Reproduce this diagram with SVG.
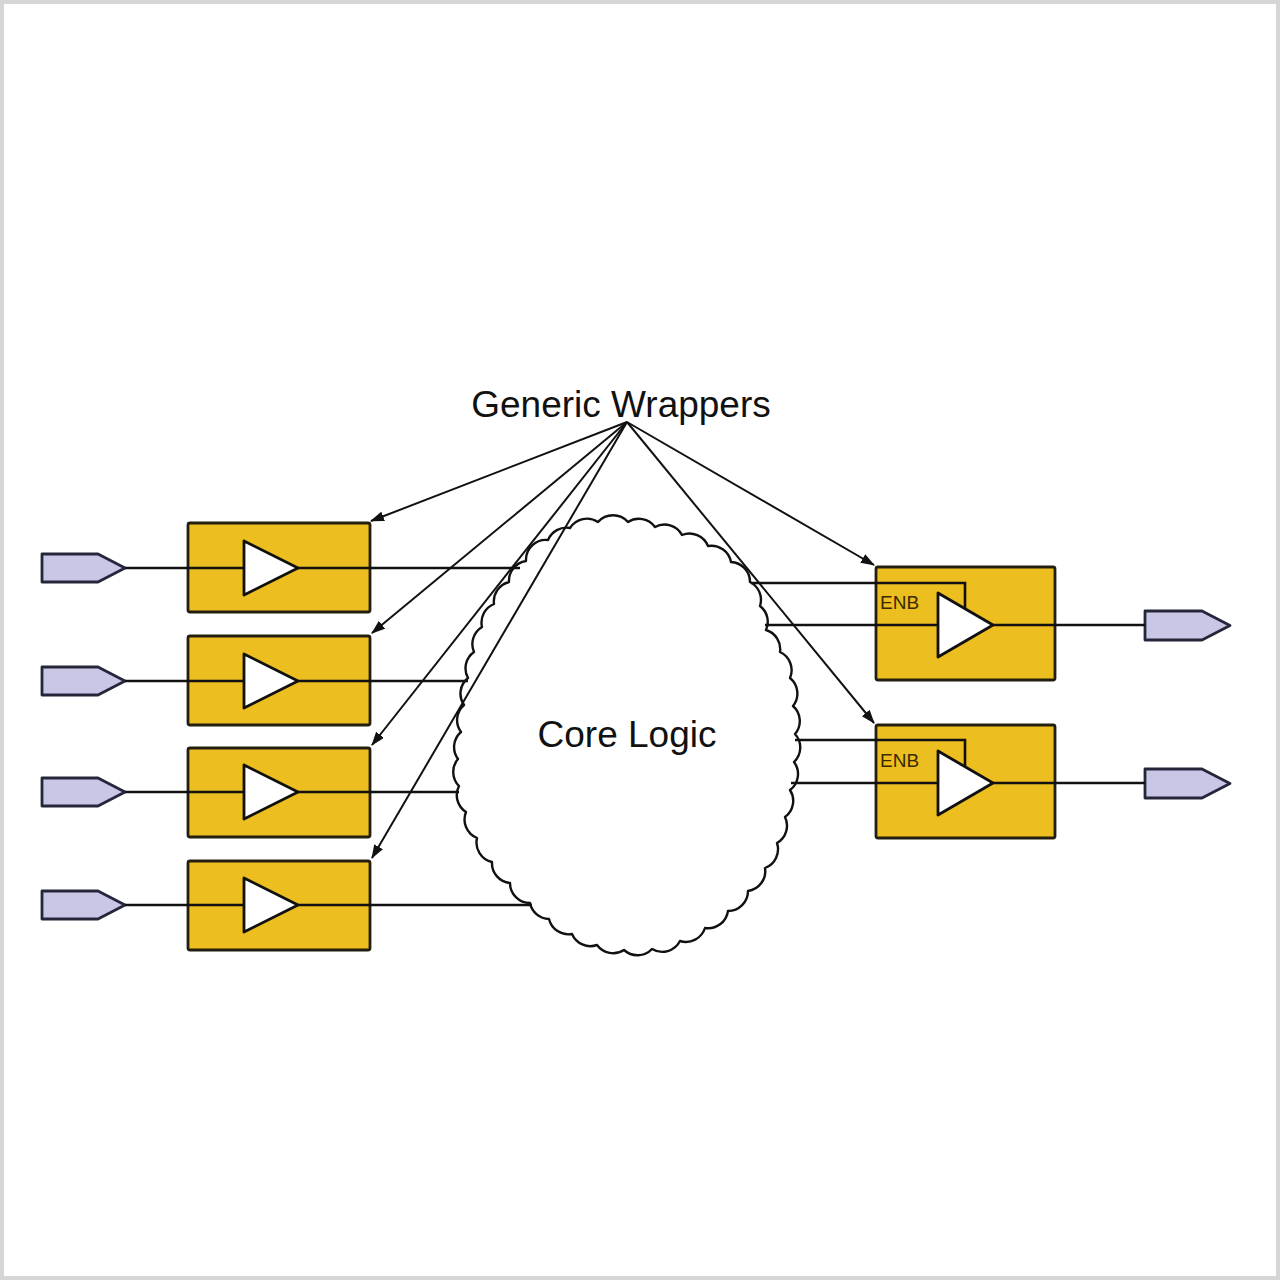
<svg xmlns="http://www.w3.org/2000/svg" width="1280" height="1280" viewBox="0 0 1280 1280">
<style>
  .box { fill: #EDBE1F; stroke: #221e10; stroke-width: 2.8; }
  .tri { fill: #ffffff; stroke: #111; stroke-width: 2.8; stroke-linejoin: round; }
  .pin { fill: #C8C8E6; stroke: #26263a; stroke-width: 2.8; stroke-linejoin: round; }
  .wire { fill: none; stroke: #111; stroke-width: 2.6; }
  .arrow { fill: none; stroke: #111; stroke-width: 2; marker-end: url(#ah); }
  .cloud { fill: #ffffff; stroke: #111; stroke-width: 2.4; stroke-linejoin: round; }
  .lbl { font-family: "Liberation Sans", Arial, sans-serif; fill: #111; }
  .enb { font-family: "Liberation Sans", Arial, sans-serif; font-size: 19px; fill: #3a2a00; }
</style>
<defs>
  <marker id="ah" markerUnits="userSpaceOnUse" markerWidth="14" markerHeight="10" refX="13" refY="5" orient="auto">
    <path d="M0,0 L14,5 L0,10 Z" fill="#111"/>
  </marker>
</defs>
<rect x="0" y="0" width="1280" height="1280" fill="#ffffff"/>
<rect x="2" y="2" width="1276" height="1276" fill="none" stroke="#d6d6d6" stroke-width="4"/>

<g id="core-logic">
  <path class="cloud" d="M548,540 A20,20 0 0 1 570,528 A20,20 0 0 1 598,522 A20,20 0 0 1 628,522 A20,20 0 0 1 655,527 A20,20 0 0 1 682,535 A20,20 0 0 1 708,546 A20,20 0 0 1 731,562 A20,20 0 0 1 750,582 A20,20 0 0 1 760,606 A20,20 0 0 1 766,630 A20,20 0 0 1 780,652 A20,20 0 0 1 790,678 A20,20 0 0 1 793,706 A20,20 0 0 1 795,734 A20,20 0 0 1 794,762 A20,20 0 0 1 790,790 A20,20 0 0 1 785,817 A20,20 0 0 1 777,843 A20,20 0 0 1 765,868 A20,20 0 0 1 748,891 A20,20 0 0 1 728,911 A20,20 0 0 1 705,928 A20,20 0 0 1 680,941 A20,20 0 0 1 652,949 A20,20 0 0 1 624,950 A20,20 0 0 1 597,945 A20,20 0 0 1 572,934 A20,20 0 0 1 549,919 A20,20 0 0 1 530,903 A20,20 0 0 1 510,883 A20,20 0 0 1 492,862 A20,20 0 0 1 477,838 A20,20 0 0 1 466,812 A20,20 0 0 1 459,786 A20,20 0 0 1 458,759 A20,20 0 0 1 461,732 A20,20 0 0 1 464,705 A20,20 0 0 1 468,678 A20,20 0 0 1 474,652 A20,20 0 0 1 482,627 A20,20 0 0 1 494,604 A20,20 0 0 1 509,582 A20,20 0 0 1 526,561 A20,20 0 0 1 548,540 Z"/>
  <text class="lbl" x="627" y="747" font-size="37" text-anchor="middle">Core Logic</text>
</g>

<g id="title">
  <text class="lbl" x="621" y="417" font-size="37" text-anchor="middle">Generic Wrappers</text>
</g>

<g id="in-wrapper-1">
  <rect class="box" x="188" y="523" width="182" height="89" rx="2"/>
  <polygon class="pin" points="42,554 98,554 125,568 98,582 42,582"/>
  <polygon class="tri" points="244,541 298,568 244,595"/>
</g>
<g id="in-wrapper-2">
  <rect class="box" x="188" y="636" width="182" height="89" rx="2"/>
  <polygon class="pin" points="42,667 98,667 125,681 98,695 42,695"/>
  <polygon class="tri" points="244,654 298,681 244,708"/>
</g>
<g id="in-wrapper-3">
  <rect class="box" x="188" y="748" width="182" height="89" rx="2"/>
  <polygon class="pin" points="42,778 98,778 125,792 98,806 42,806"/>
  <polygon class="tri" points="244,765 298,792 244,819"/>
</g>
<g id="in-wrapper-4">
  <rect class="box" x="188" y="861" width="182" height="89" rx="2"/>
  <polygon class="pin" points="42,891 98,891 125,905 98,919 42,919"/>
  <polygon class="tri" points="244,878 298,905 244,932"/>
</g>

<g id="out-wrapper-1">
  <rect class="box" x="876" y="567" width="179" height="113" rx="2"/>
  <text class="enb" x="880" y="609">ENB</text>
  <polygon class="tri" points="938,593 993,625 938,657"/>
  <polygon class="pin" points="1145,611 1202,611 1230,625.5 1202,640 1145,640"/>
</g>
<g id="out-wrapper-2">
  <rect class="box" x="876" y="725" width="179" height="113" rx="2"/>
  <text class="enb" x="880" y="767">ENB</text>
  <polygon class="tri" points="938,751 993,783 938,815"/>
  <polygon class="pin" points="1145,769 1202,769 1230,783.5 1202,798 1145,798"/>
</g>

<g id="connectors">
  <path class="wire" d="M125,568 H244 M298,568 H520"/>
  <path class="wire" d="M125,681 H244 M298,681 H468"/>
  <path class="wire" d="M125,792 H244 M298,792 H459"/>
  <path class="wire" d="M125,905 H244 M298,905 H532"/>
  <path class="wire" d="M751,583 H965 V609"/>
  <path class="wire" d="M765,625 H938 M993,625 H1145"/>
  <path class="wire" d="M795,740 H965 V767"/>
  <path class="wire" d="M791,783 H938 M993,783 H1145"/>
  <line class="arrow" x1="627" y1="422" x2="371" y2="521"/>
  <line class="arrow" x1="627" y1="422" x2="372" y2="633"/>
  <line class="arrow" x1="627" y1="422" x2="372" y2="745"/>
  <line class="arrow" x1="627" y1="422" x2="372" y2="858"/>
  <line class="arrow" x1="627" y1="422" x2="874" y2="565"/>
  <line class="arrow" x1="627" y1="422" x2="874" y2="723"/>
</g>
</svg>
